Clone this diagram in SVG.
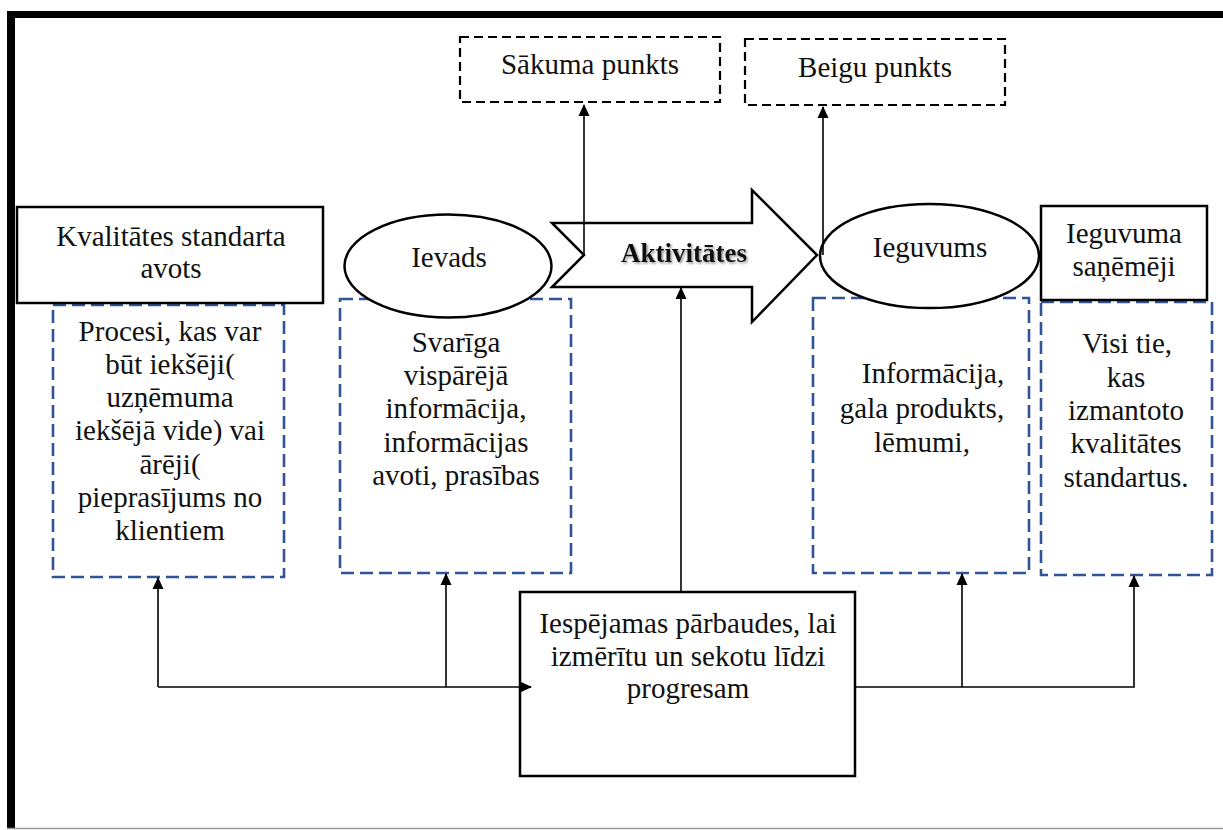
<svg xmlns="http://www.w3.org/2000/svg" width="1223" height="830" viewBox="0 0 1223 830">
<defs>
<style>
.t{font-family:"Liberation Serif","Tinos","Noto Serif","DejaVu Serif",serif;font-size:29px;font-weight:400;fill:#111;text-anchor:middle}
.b{fill:#fff;stroke:#000;stroke-width:2.5}
.dk{fill:none;stroke:#000;stroke-width:2.2;stroke-dasharray:9 5}
.db{fill:none;stroke:#2F5597;stroke-width:2.6;stroke-dasharray:13 6}
.c{fill:none;stroke:#000;stroke-width:1.6}
</style>
<marker id="ah" viewBox="0 0 12 12" refX="11" refY="6" markerWidth="12" markerHeight="12" markerUnits="userSpaceOnUse" orient="auto">
<path d="M0,0.5 L12,6 L0,11.5 Z" fill="#000"/>
</marker>
<filter id="sh" x="-10%" y="-30%" width="130%" height="170%">
<feDropShadow dx="1.5" dy="1.5" stdDeviation="1" flood-color="#777" flood-opacity="0.8"/>
</filter>
</defs>
<rect x="0" y="0" width="1223" height="830" fill="#fff"/>
<g id="frame">
<line x1="7" y1="14.5" x2="1223" y2="14.5" stroke="#000" stroke-width="7"/>
<line x1="11" y1="11" x2="11" y2="828" stroke="#000" stroke-width="8"/>
<line x1="7" y1="828.5" x2="1223" y2="828.5" stroke="#999" stroke-width="1.5"/>
</g>
<g id="box-procesi">
<rect class="db" x="53" y="305" width="231" height="272"/>
<text class="t" x="170" y="341">Procesi, kas var</text>
<text class="t" x="170" y="374">būt iekšēji(</text>
<text class="t" x="170" y="407">uzņēmuma</text>
<text class="t" x="170" y="440">iekšējā vide) vai</text>
<text class="t" x="170" y="474">ārēji(</text>
<text class="t" x="170" y="507">pieprasījums no</text>
<text class="t" x="170" y="540">klientiem</text>
</g>
<g id="box-svariga">
<rect class="db" x="340" y="299" width="231" height="274"/>
<text class="t" x="456" y="352">Svarīga</text>
<text class="t" x="456" y="385">vispārējā</text>
<text class="t" x="456" y="418">informācija,</text>
<text class="t" x="456" y="452">informācijas</text>
<text class="t" x="456" y="485">avoti, prasības</text>
</g>
<g id="box-informacija">
<rect class="db" x="813" y="298" width="216" height="275"/>
<text class="t" x="933" y="383">Informācija,</text>
<text class="t" x="922" y="418">gala produkts,</text>
<text class="t" x="922" y="452">lēmumi,</text>
</g>
<g id="box-visi">
<rect class="db" x="1041" y="302" width="171" height="273"/>
<text class="t" x="1127" y="353">Visi tie,</text>
<text class="t" x="1126" y="387">kas</text>
<text class="t" x="1126" y="420">izmantoto</text>
<text class="t" x="1126" y="453">kvalitātes</text>
<text class="t" x="1126" y="487">standartus.</text>
</g>
<g id="kvalitates">
<rect class="b" x="17" y="207" width="306" height="96"/>
<text class="t" x="171" y="246">Kvalitātes standarta</text>
<text class="t" x="171" y="278">avots</text>
</g>
<g id="ievads">
<ellipse class="b" cx="448" cy="266" rx="103.5" ry="51.5"/>
<text class="t" x="449" y="267">Ievads</text>
</g>
<g id="aktivitates">
<polygon class="b" points="552,223 752,223 752,190 817,255 752,322 752,287 552,287 584,255"/>
<text class="t" x="684" y="262" style="font-weight:bold;font-size:27px" filter="url(#sh)">Aktivitātes</text>
</g>
<g id="ieguvums">
<ellipse class="b" cx="929.5" cy="256" rx="109.5" ry="52"/>
<text class="t" x="930" y="257">Ieguvums</text>
</g>
<g id="sanemeji">
<rect class="b" x="1041" y="206" width="166" height="94"/>
<text class="t" x="1124" y="243">Ieguvuma</text>
<text class="t" x="1124" y="276">saņēmēji</text>
</g>
<g id="sakuma">
<rect class="dk" x="460" y="37" width="260" height="65"/>
<text class="t" x="590" y="74">Sākuma punkts</text>
</g>
<g id="beigu">
<rect class="dk" x="745" y="39" width="260" height="66"/>
<text class="t" x="875" y="77">Beigu punkts</text>
</g>
<g id="parbaudes">
<rect class="b" x="520" y="592" width="335" height="184"/>
<text class="t" x="688" y="633">Iespējamas pārbaudes, lai</text>
<text class="t" x="688" y="666">izmērītu un sekotu līdzi</text>
<text class="t" x="688" y="698">progresam</text>
</g>
<g id="connectors">
<line class="c" x1="584" y1="255" x2="584" y2="105" marker-end="url(#ah)"/>
<line class="c" x1="823" y1="255" x2="823" y2="107" marker-end="url(#ah)"/>
<line class="c" x1="681" y1="592" x2="681" y2="288" marker-end="url(#ah)"/>
<line class="c" x1="158" y1="687" x2="531" y2="687" marker-end="url(#ah)"/>
<line class="c" x1="158" y1="687" x2="158" y2="578" marker-end="url(#ah)"/>
<line class="c" x1="446" y1="687" x2="446" y2="574" marker-end="url(#ah)"/>
<polyline class="c" points="855,687 1134,687 1134,576" marker-end="url(#ah)"/>
<line class="c" x1="962" y1="687" x2="962" y2="574" marker-end="url(#ah)"/>
</g>
</svg>
